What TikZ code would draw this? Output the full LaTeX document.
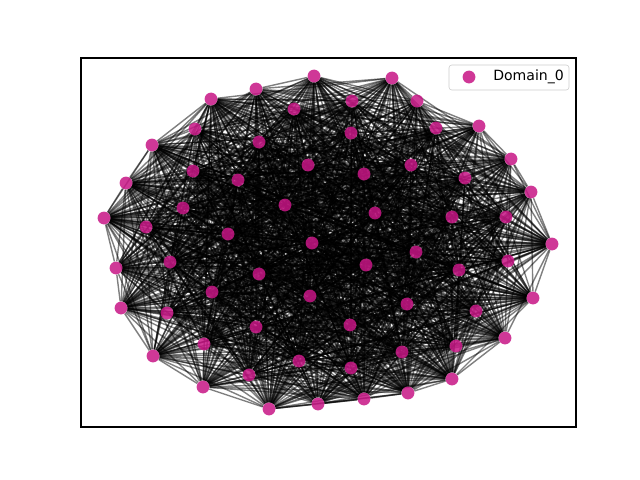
\documentclass[tikz,border=0pt]{standalone}
\usepackage{xcolor}
\usepackage{fontspec}
\setmainfont{DejaVu Sans}
\usetikzlibrary{backgrounds}

\definecolor{domcol}{HTML}{C71585}

\tikzset{
  dot/.style={circle, fill=domcol, fill opacity=.85, draw=none, minimum size=.32cm, inner sep=0pt},
  edge/.style={black, draw opacity=.5, line width=1pt}
}

\begin{document}
\begin{tikzpicture}[x=.025cm, y=-.025cm]
             \useasboundingbox (0,0) rectangle (640,480);

             % nodes
             \foreach \n/\x/\y in {1/314/76, 2/256/89, 3/211/99, 4/294/109, 5/195/129,
                 6/259/142, 7/152/145, 8/308/165, 9/193/171, 10/126/183, 11/238/180,
                 12/183/208, 13/285/205, 14/104/218, 15/146/227, 16/228/234, 17/312/243,
                 18/392/78, 19/352/101, 20/417/101, 21/351/133, 22/436/128, 23/479/126,
                 24/411/165, 25/364/174, 26/465/178, 27/511/159, 28/531/192, 29/375/213,
                 30/452/217, 31/506/217, 32/552/244, 33/116/268, 34/170/262, 35/259/274,
                 36/121/308, 37/212/292, 38/167/313, 39/310/296, 40/256/327, 41/204/344,
                 42/153/356, 43/299/361, 44/249/375, 45/203/387, 46/269/409, 47/318/404,
                 48/416/252, 49/366/265, 50/508/261, 51/459/270, 52/533/298, 53/407/304,
                 54/476/311, 55/350/325, 56/505/338, 57/402/352, 58/456/346, 59/351/368,
                 60/452/379, 61/408/393, 62/364/399}
               \node[dot] (n\n) at (\x,\y) {};

             % edges
             \pgfmathsetseed{2024}
             \begin{scope}[on background layer]
               \foreach \i [evaluate=\i as \k using int(\i+1)] in {1,...,61}
                 \foreach \j in {\k,...,62} {
                   \pgfmathtruncatemacro\keep{rnd<0.8 ? 1 : 0}
                   \ifnum\keep=1
                     \draw[edge] (n\i) -- (n\j);
                   \fi
                 }
             \end{scope}

             % frame
             \draw[line width=.8pt] (81,58) rectangle (576,427);

             % legend
             \draw[draw=black!20, fill=white, fill opacity=.8, rounded corners=2pt] (449,65) rectangle (569,90);
             \node[dot] (legdot) at (469,77) {};
             \node[anchor=west, inner sep=0pt, font=\fontsize{10}{12}\selectfont] (legtext) at (493,77) {Domain\_0};
             \end{tikzpicture}
\end{document}
